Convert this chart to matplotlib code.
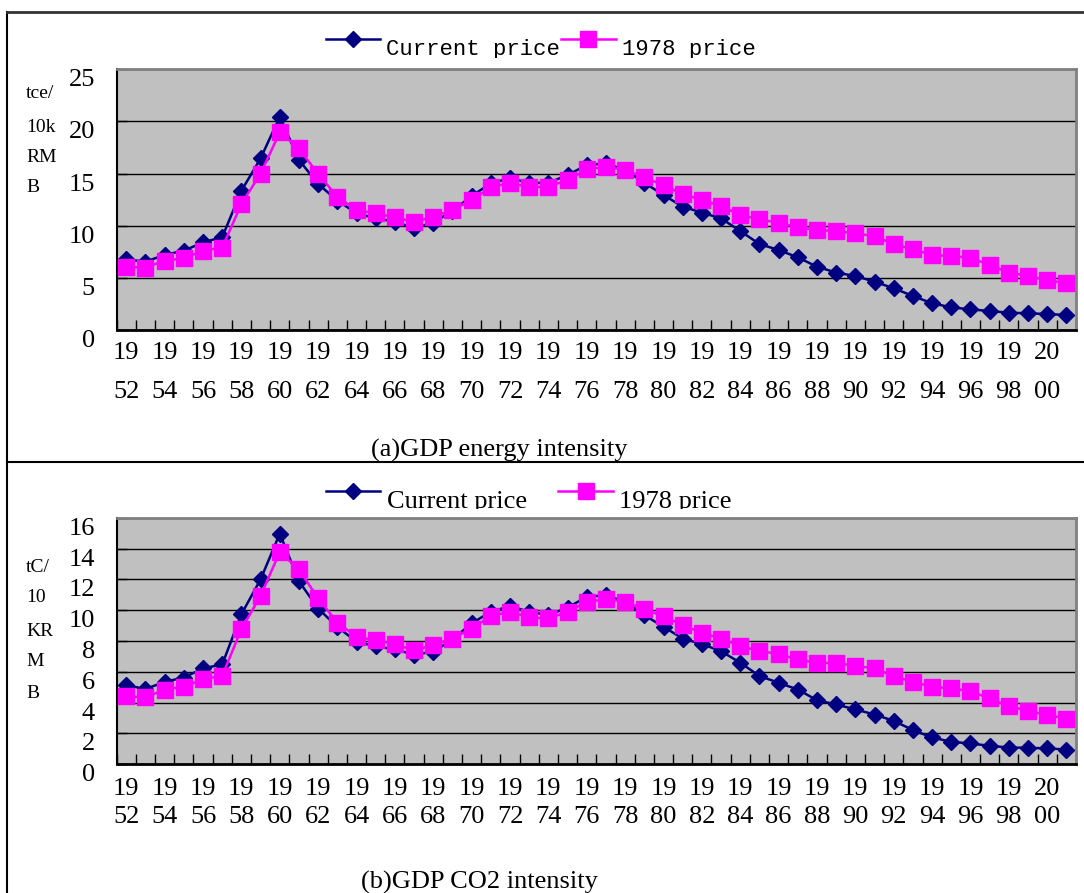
import matplotlib
matplotlib.use("Agg")
import matplotlib.pyplot as plt
from matplotlib.lines import Line2D
from matplotlib.transforms import Bbox

# data
years = list(range(1952, 2002))
energy_current = [6.77, 6.55, 7.2, 7.6, 8.4, 8.9, 13.35, 16.45, 20.45, 16.3,
                  14.0, 12.4, 11.2, 10.7, 10.4, 9.75, 10.3, 11.4, 12.85, 14.05,
                  14.55, 14.1, 14.1, 14.86, 15.8, 15.97, 15.34, 14.12, 12.94, 11.82,
                  11.25, 10.7, 9.49, 8.24, 7.67, 6.96, 6.07, 5.5, 5.18, 4.63,
                  4.0, 3.26, 2.56, 2.17, 1.98, 1.82, 1.66, 1.6, 1.53, 1.44]
energy_1978 = [6.07, 5.97, 6.65, 6.87, 7.6, 7.9, 12.08, 15.0, 18.95, 17.4,
               14.95, 12.78, 11.5, 11.18, 10.8, 10.35, 10.86, 11.5, 12.46, 13.67,
               14.12, 13.67, 13.74, 14.38, 15.4, 15.65, 15.34, 14.63, 13.87, 13.04,
               12.46, 11.88, 11.02, 10.6, 10.29, 9.84, 9.58, 9.49, 9.27, 9.0,
               8.24, 7.73, 7.19, 7.09, 6.93, 6.23, 5.5, 5.18, 4.79, 4.47]
co2_current = [5.14, 4.88, 5.35, 5.63, 6.22, 6.48, 9.74, 12.0, 14.97, 11.88,
               10.1, 8.92, 7.95, 7.66, 7.45, 7.12, 7.3, 8.1, 9.14, 9.9,
               10.26, 9.9, 9.68, 10.17, 10.86, 10.97, 10.54, 9.68, 8.92, 8.16,
               7.8, 7.34, 6.59, 5.73, 5.29, 4.85, 4.16, 3.88, 3.56, 3.23,
               2.82, 2.22, 1.74, 1.46, 1.35, 1.2, 1.09, 1.07, 1.03, 0.96]
co2_1978 = [4.42, 4.34, 4.85, 5.03, 5.52, 5.74, 8.77, 10.93, 13.78, 12.64,
            10.76, 9.2, 8.27, 8.05, 7.8, 7.4, 7.73, 8.16, 8.81, 9.61,
            9.9, 9.53, 9.46, 9.89, 10.54, 10.71, 10.54, 10.06, 9.61, 9.03,
            8.53, 8.16, 7.66, 7.36, 7.15, 6.8, 6.58, 6.58, 6.39, 6.22,
            5.72, 5.35, 5.03, 4.92, 4.75, 4.27, 3.77, 3.47, 3.19, 2.97]
series_names = ["Current price", "1978 price"]
captions = ["(a)GDP energy intensity", "(b)GDP CO2 intensity"]
unit_top = ["tce/", "10k", "RM", "B"]
unit_bottom = ["tC/", "10", "KR", "M", "B"]

W, H = 1084, 893
SERIF = "Liberation Serif"
MONO = "Liberation Mono"


def fx(x):
    return x / W


def fy(y):
    return 1 - y / H


def clip_below(artist, y):
    # cut off anything drawn below image row y
    artist.set_clip_box(Bbox.from_extents(0, H - y, W, H))
    artist.set_clip_on(True)


fig = plt.figure(figsize=(W / 100, H / 100), dpi=100)

# frame lines of the two panels
fig.add_artist(Line2D([fx(7), fx(7)], [fy(12), fy(893)], transform=fig.transFigure, color="black", lw=1.5))
fig.add_artist(Line2D([fx(7), 1], [fy(12), fy(12)], transform=fig.transFigure, color="#333333", lw=2))
fig.add_artist(Line2D([fx(7), 1], [fy(462), fy(462)], transform=fig.transFigure, color="black", lw=1.5))

panels = [
    dict(top=69.2, bottom=330, cur=energy_current, old=energy_1978, ymax=25, step=5,
         legend_font=dict(family=MONO, size=16), leg_base=55.5, leg_clip=58.3, hh=3.32,
         hl=2.45, hpad=0.27, cspace=0.05, units=unit_top, unit_y=[93, 127, 158, 188],
         lsp=2.0, xpad=8.5, cap_y=457, cap_clip=460.5, cap_x=499),
    dict(top=517.7, bottom=764.3, cur=co2_current, old=co2_1978, ymax=16, step=2,
         legend_font=dict(family=SERIF, size=19), leg_base=508.2, leg_clip=508.5, hh=2.79,
         hl=2.06, hpad=0.25, cspace=1.2, units=unit_bottom, unit_y=[567, 598, 631, 662, 694],
         lsp=1.35, xpad=10, cap_y=889, cap_clip=893, cap_x=479),
]

x = list(range(len(years)))
for i, p in enumerate(panels):
    ax = fig.add_axes([fx(116.7), fy(p["bottom"]), (1076 - 116.7) / W, (p["bottom"] - p["top"]) / H])
    ax.set_facecolor("#C0C0C0")
    ax.plot(x, p["cur"], color="#000080", lw=1.8, marker="D", ms=7.8, label=series_names[0], zorder=3)
    ax.plot(x, p["old"], color="#FF00FF", lw=1.8, marker="s", ms=11.5, label=series_names[1], zorder=4)
    ax.set_xlim(-0.5, len(years) - 0.5)
    ax.set_ylim(0, p["ymax"])

    for side in ["top", "right"]:
        ax.spines[side].set_color("#808080")
        ax.spines[side].set_linewidth(2)
    ax.spines["left"].set_color("black")
    ax.spines["left"].set_linewidth(1.5)
    ax.spines["bottom"].set_color("black")
    ax.spines["bottom"].set_linewidth(2)
    ax.yaxis.grid(True, color="black", lw=1)

    yt = list(range(0, p["ymax"] + 1, p["step"]))
    ax.set_yticks(yt, labels=[str(v) for v in yt])
    ax.tick_params(axis="y", direction="in", length=7, width=1, pad=15.8, labelsize=19)
    for lab in ax.get_yticklabels():
        lab.set_fontfamily(SERIF)
        lab.set_va("top")

    pos = x[::2]
    ax.set_xticks(pos, labels=[str(years[k])[:2] + "\n" + str(years[k])[2:] for k in pos])
    ax.set_xticks([k - 0.5 for k in range(len(years) + 1)], minor=True)
    ax.tick_params(axis="x", which="major", length=0, pad=p["xpad"], labelsize=19)
    ax.tick_params(axis="x", which="minor", direction="in", length=7, width=1, color="black")
    for lab in ax.get_xticklabels():
        lab.set_fontfamily(SERIF)
        lab.set_linespacing(p["lsp"])

    # legend row sits above the plot, text cut off at its baseline like the original
    fs_px = p["legend_font"]["size"] * 100 / 72
    leg = ax.legend(ncol=2, loc="lower left", frameon=False, numpoints=1,
                    bbox_to_anchor=(fx(325.7), fy(p["leg_base"] + 0.35 * fs_px * (p["hh"] - 0.7))),
                    bbox_transform=fig.transFigure, borderpad=0, borderaxespad=0,
                    handlelength=p["hl"], handletextpad=p["hpad"], columnspacing=p["cspace"],
                    handleheight=p["hh"], prop=p["legend_font"])
    for t in leg.get_texts():
        clip_below(t, p["leg_clip"])

    for s, yy in zip(p["units"], p["unit_y"]):
        fig.text(fx(26), fy(yy), s, ha="left", va="center", fontsize=14, family=SERIF)

    cap = fig.text(fx(p["cap_x"]), fy(p["cap_y"]), captions[i], ha="center", va="baseline",
                   fontsize=19, family=SERIF)
    clip_below(cap, p["cap_clip"])

fig.savefig("out.png", dpi=100)
